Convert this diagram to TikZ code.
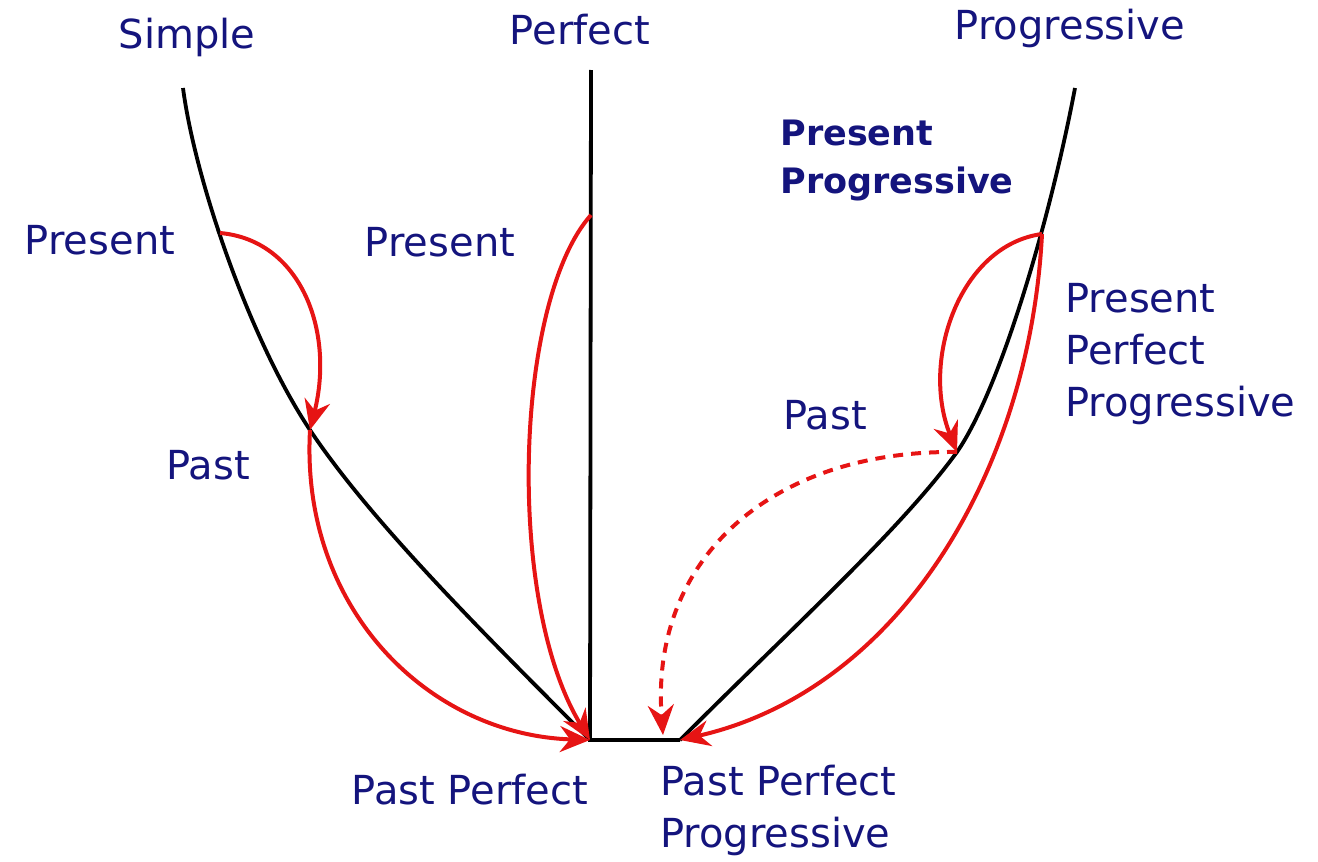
\documentclass[tikz,border=0pt]{standalone}
\usepackage{fontspec}
\setmainfont{DejaVu Sans}
\usetikzlibrary{arrows.meta}

\definecolor{tensenavy}{RGB}{20,20,125}
\definecolor{tensered}{RGB}{230,20,20}

\begin{document}
\begin{tikzpicture}[
    x=0.5pt, y=-0.5pt,
    >={Stealth[length=15pt,width=13pt,inset=5pt]},
    tenselabel/.style={text=tensenavy, font=\fontsize{20}{26}\selectfont, align=left, inner sep=0pt},
    boldlabel/.style={tenselabel, font=\fontsize{17.5}{24}\selectfont\bfseries},
    axis/.style={line width=1.9pt, black},
    tenseshift/.style={line width=2pt, tensered, ->},
    dotshift/.style={tenseshift, dash pattern=on 5pt off 4pt}
]
\useasboundingbox (0,0) rectangle (1318,862);

% Points on the three tense lines
\coordinate (simpleTop) at (183,88);
\coordinate (simplePres) at (220,233);
\coordinate (simplePast) at (310,430);
\coordinate (pastPerf) at (590,740);
\coordinate (perfTop) at (591,70);
\coordinate (perfPres) at (591,215);
\coordinate (ppProg) at (680,740);
\coordinate (ppDot) at (663,735);
\coordinate (progPast) at (957,452);
\coordinate (progPres) at (1042,234);
\coordinate (progTop) at (1075,88);

% Black lines
\draw[axis] (simpleTop) .. controls (195,180) and (250,340) .. (simplePast)
    .. controls (370,520) and (480,630) .. (pastPerf);
\draw[axis] (perfTop) -- (pastPerf) -- (ppProg);
\draw[axis] (ppProg) .. controls (800,620) and (900,530) .. (progPast)
    .. controls (1000,390) and (1050,220) .. (progTop);

% Red shifts
\draw[tenseshift] (simplePres) .. controls (300,240) and (335,330) .. (simplePast);
\draw[tenseshift] (simplePast) .. controls (300,610) and (430,735) .. (pastPerf);
\draw[tenseshift] (perfPres) .. controls (515,300) and (505,600) .. (pastPerf);
\draw[tenseshift] (progPres) .. controls (960,245) and (920,360) .. (progPast);
\draw[tenseshift] (progPres) .. controls (1030,470) and (900,690) .. (ppProg);
\draw[dotshift] (progPast) .. controls (770,450) and (650,560) .. (ppDot);

% Headings
\node[tenselabel] (simpleHead) at (187,37) {Simple};
\node[tenselabel] (perfHead) at (580,30) {Perfect};
\node[tenselabel] (progHead) at (1070,28) {Progressive};

% Tense names
\node[tenselabel] (simplePresLbl) at (100,240) {Present};
\node[tenselabel] (perfPresLbl) at (440,242) {Present};
\node[tenselabel] (simplePastLbl) at (208,465) {Past};
\node[boldlabel, anchor=north west] (progPresLbl) at (780,120) {Present\\Progressive};
\node[tenselabel, anchor=north west] (ppPresLbl) at (1065,283) {Present\\Perfect\\Progressive};
\node[tenselabel] (progPastLbl) at (825,415) {Past};
\node[tenselabel] (pastPerfLbl) at (470,790) {Past Perfect};
\node[tenselabel, anchor=north west] (ppProgLbl) at (660,765) {Past Perfect\\Progressive};

\end{tikzpicture}
\end{document}
